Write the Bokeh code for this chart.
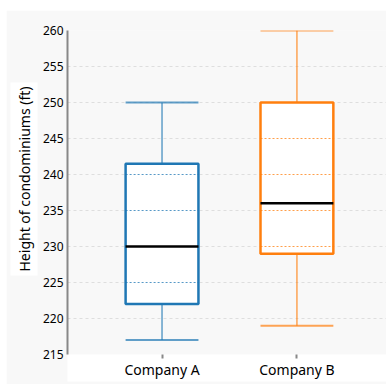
from bokeh.plotting import figure
from bokeh.models import ColumnDataSource, Range1d, FixedTicker, Title
from bokeh.embed import file_html
from bokeh.resources import INLINE

# ---- data ----
companies = ["Company A", "Company B"]
lower_whisker = [217, 219]
q1 = [222, 229]
median = [230, 236]
q3 = [241.5, 250]
upper_whisker = [250, 260]
colors = ["#1f77b4", "#ff7f0e"]
y_ticks = [215, 220, 225, 230, 235, 240, 245, 250, 255, 260]
y_label = "Height of condominiums (ft)"

FONT = "Noto Sans"
positions = [i + 1 for i in range(len(companies))]
box_w = 0.54

src = ColumnDataSource(dict(
    x=positions,
    left=[p_ - box_w / 2 for p_ in positions],
    right=[p_ + box_w / 2 for p_ in positions],
    lw=lower_whisker, q1=q1, med=median, q3=q3, uw=upper_whisker,
    color=colors,
))

# inner dashed lines at tick values inside the box
dx0, dx1, dy, dc = [], [], [], []
for i, pos in enumerate(positions):
    for t in y_ticks:
        if q1[i] < t < q3[i] and t != median[i]:
            dx0.append(pos - box_w / 2)
            dx1.append(pos + box_w / 2)
            dy.append(t)
            dc.append(colors[i])
dash_src = ColumnDataSource(dict(x0=dx0, x1=dx1, y=dy, color=dc))

p = figure(width=380, height=374,
           x_range=Range1d(0.2993, 2.664), y_range=Range1d(y_ticks[0], y_ticks[-1]),
           output_backend="svg", toolbar_location=None,
           min_border_left=56, min_border_right=0, min_border_top=20, min_border_bottom=30,
           background_fill_color="#f8f8f8", border_fill_color="#f8f8f8",
           outline_line_color=None)
p.margin = (10, 0, 0, 6)

p.xgrid.visible = False
p.ygrid.ticker = FixedTicker(ticks=y_ticks)
p.ygrid.grid_line_color = "#dedede"
p.ygrid.grid_line_dash = "3 3"
p.ygrid.grid_line_width = 1

# whisker stems
p.segment(x0="x", x1="x", y0="q3", y1="uw", source=src, line_color="color", line_alpha=0.7, line_width=1.5)
p.segment(x0="x", x1="x", y0="q1", y1="lw", source=src, line_color="color", line_alpha=0.7, line_width=1.5)
# whisker caps
p.segment(x0="left", x1="right", y0="uw", y1="uw", source=src, line_color="color", line_alpha=0.7, line_width=2)
p.segment(x0="left", x1="right", y0="lw", y1="lw", source=src, line_color="color", line_alpha=0.7, line_width=2)
# boxes
p.quad(left="left", right="right", bottom="q1", top="q3", source=src,
       fill_color="white", line_color="color", line_width=2.5)
# dashed lines within boxes
p.segment(x0="x0", x1="x1", y0="y", y1="y", source=dash_src, line_color="color",
          line_alpha=0.75, line_width=1, line_dash="2 2")
# medians
p.segment(x0="left", x1="right", y0="med", y1="med", source=src, line_color="black", line_width=2.5)

# axes
p.yaxis.ticker = FixedTicker(ticks=y_ticks)
p.yaxis.axis_line_color = "#888888"
p.yaxis.axis_line_width = 2
p.yaxis.major_tick_line_color = None
p.yaxis.minor_tick_line_color = None
p.yaxis.major_tick_out = 0
p.yaxis.major_tick_in = 0
p.yaxis.major_label_standoff = 4
p.yaxis.major_label_text_font = FONT
p.yaxis.major_label_text_font_size = "12px"
p.yaxis.major_label_text_color = "black"

p.xaxis.ticker = FixedTicker(ticks=positions)
p.xaxis.major_label_overrides = {pos: name for pos, name in zip(positions, companies)}
p.xaxis.axis_line_color = None
p.xaxis.major_tick_line_color = "#888888"
p.xaxis.major_tick_line_width = 2
p.xaxis.major_tick_out = 4
p.xaxis.major_tick_in = 0
p.xaxis.minor_tick_line_color = None
p.xaxis.major_label_standoff = 1
p.xaxis.major_label_text_font = FONT
p.xaxis.major_label_text_font_size = "14px"
p.xaxis.major_label_text_color = "black"
p.xaxis.background_fill_color = "white"

p.add_layout(Title(text=y_label, align="left", offset=79, standoff=4,
                   text_font=FONT, text_font_size="14px", text_font_style="normal",
                   text_color="black", background_fill_color="white", padding=4), "left")

open("out.html", "w").write(file_html(p, INLINE))
